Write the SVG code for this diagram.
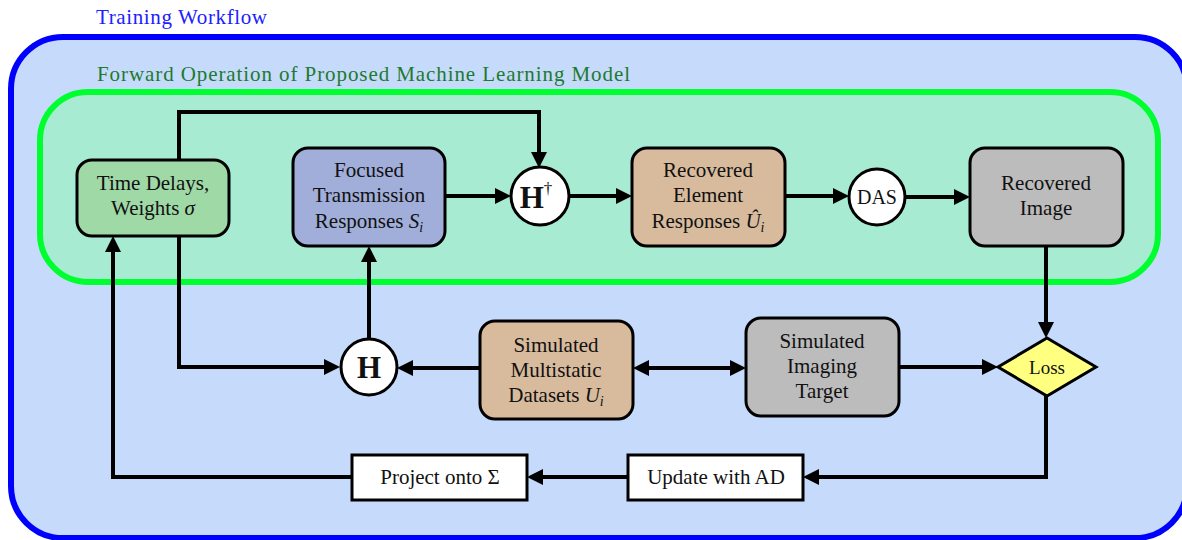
<svg xmlns="http://www.w3.org/2000/svg" width="1182" height="540" viewBox="0 0 1182 540">
<defs>
<style>
text{font-family:"Liberation Serif","DejaVu Serif",serif;fill:#111;text-anchor:middle}
.node{stroke:#000;stroke-width:3}
.conn{fill:none;stroke:#000;stroke-width:4;stroke-linejoin:miter}
.lbl{font-size:21px}
.title{font-size:21px;text-anchor:start}
.math{font-style:italic}
</style>
<marker id="ah" viewBox="0 0 16 16" refX="12" refY="8" markerWidth="16" markerHeight="16" markerUnits="userSpaceOnUse" orient="auto-start-reverse">
<path d="M0,0 L16,8 L0,16 z" fill="#000"/>
</marker>
</defs>
<rect width="1182" height="540" fill="#fff"/>
<g id="training-workflow">
<rect x="11" y="37" width="1176" height="501" rx="52" ry="52" fill="#c6dbfb" stroke="#0000ff" stroke-width="6"/>
<text class="title" x="96" y="24" fill="#2020ff" style="fill:#2020ff" textLength="171">Training Workflow</text>
</g>
<g id="forward-operation">
<rect x="40" y="92" width="1118" height="190" rx="48" ry="48" fill="#a8ebd3" stroke="#00ff2e" stroke-width="6"/>
<text class="title" x="97" y="81" style="fill:#1d7a2e" textLength="533">Forward Operation of Proposed Machine Learning Model</text>
</g>
<g id="connectors">
<path class="conn" d="M179,160 V112 H539 V164" marker-end="url(#ah)"/>
<path class="conn" d="M179,236 V367 H336" marker-end="url(#ah)"/>
<path class="conn" d="M445,196 H507" marker-end="url(#ah)"/>
<path class="conn" d="M570,196 H628" marker-end="url(#ah)"/>
<path class="conn" d="M785,196 H845" marker-end="url(#ah)"/>
<path class="conn" d="M906,197 H966" marker-end="url(#ah)"/>
<path class="conn" d="M1046,246 V334" marker-end="url(#ah)"/>
<path class="conn" d="M899,367 H994" marker-end="url(#ah)"/>
<path class="conn" d="M637,368 H742" marker-start="url(#ah)" marker-end="url(#ah)"/>
<path class="conn" d="M480,368 H401" marker-end="url(#ah)"/>
<path class="conn" d="M369,338 V250" marker-end="url(#ah)"/>
<path class="conn" d="M1046,395 V477 H807" marker-end="url(#ah)"/>
<path class="conn" d="M628,477 H531" marker-end="url(#ah)"/>
<path class="conn" d="M352,477 H113 V240" marker-end="url(#ah)"/>
</g>
<g id="time-delays">
<rect class="node" x="77" y="160" width="152" height="76" rx="15" fill="#9fd9a6"/>
<text class="lbl" x="153" y="190">Time Delays,</text>
<text class="lbl" x="153" y="215">Weights <tspan class="math">σ</tspan></text>
</g>
<g id="focused-transmission">
<rect class="node" x="293" y="148" width="152" height="98" rx="15" fill="#a0aed9"/>
<text class="lbl" x="369" y="177">Focused</text>
<text class="lbl" x="369" y="202">Transmission</text>
<text class="lbl" x="369" y="228">Responses <tspan class="math">S</tspan><tspan class="math" font-size="14" dy="4">i</tspan></text>
</g>
<g id="h-dagger">
<circle class="node" cx="540" cy="196" r="29" fill="#fff"/>
<text x="536" y="208" font-size="31" font-weight="bold">H<tspan font-size="17" font-weight="normal" dy="-14">†</tspan></text>
</g>
<g id="recovered-element">
<rect class="node" x="632" y="148" width="153" height="98" rx="15" fill="#d8bb9d"/>
<text class="lbl" x="708" y="177">Recovered</text>
<text class="lbl" x="708" y="202">Element</text>
<text class="lbl" x="708" y="228">Responses <tspan class="math">Û</tspan><tspan class="math" font-size="14" dy="4">i</tspan></text>
</g>
<g id="das">
<circle class="node" cx="877" cy="197" r="28" fill="#fff"/>
<text x="877" y="204" font-size="20">DAS</text>
</g>
<g id="recovered-image">
<rect class="node" x="970" y="148" width="153" height="98" rx="15" fill="#bcbcbc"/>
<text class="lbl" x="1046" y="190">Recovered</text>
<text class="lbl" x="1046" y="215">Image</text>
</g>
<g id="h">
<circle class="node" cx="369" cy="367" r="28" fill="#fff"/>
<text x="369" y="378" font-size="31" font-weight="bold">H</text>
</g>
<g id="simulated-multistatic">
<rect class="node" x="480" y="321" width="153" height="98" rx="15" fill="#d8bb9d"/>
<text class="lbl" x="556" y="352">Simulated</text>
<text class="lbl" x="556" y="377">Multistatic</text>
<text class="lbl" x="556" y="402">Datasets <tspan class="math">U</tspan><tspan class="math" font-size="14" dy="4">i</tspan></text>
</g>
<g id="simulated-target">
<rect class="node" x="746" y="318" width="153" height="98" rx="15" fill="#bcbcbc"/>
<text class="lbl" x="822" y="348">Simulated</text>
<text class="lbl" x="822" y="373">Imaging</text>
<text class="lbl" x="822" y="398">Target</text>
</g>
<g id="loss">
<polygon class="node" points="1047,338 1096,367 1047,396 998,367" fill="#ffff80"/>
<text x="1047" y="374" font-size="19">Loss</text>
</g>
<g id="update-ad">
<rect class="node" x="628" y="455" width="175" height="45" fill="#fff"/>
<text class="lbl" x="716" y="484">Update with AD</text>
</g>
<g id="project">
<rect class="node" x="352" y="455" width="175" height="45" fill="#fff"/>
<text class="lbl" x="440" y="484">Project onto Σ</text>
</g>
</svg>
